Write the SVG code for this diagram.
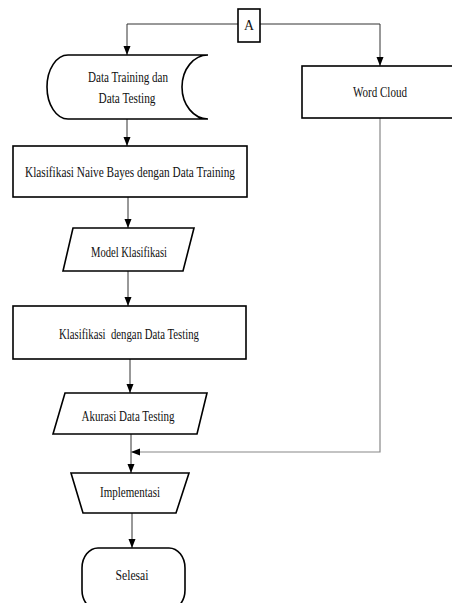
<svg xmlns="http://www.w3.org/2000/svg" width="452" height="603" viewBox="0 0 452 603">
<defs>
<marker id="arr" markerWidth="10" markerHeight="10" refX="9" refY="3.5" orient="auto" markerUnits="userSpaceOnUse" viewBox="0 0 10 7">
<path d="M0,0 L9,3.5 L0,7 Z" fill="#000"/>
</marker>
</defs>
<style>
.s{fill:#fff;stroke:#000;stroke-width:1.6}
.c{fill:none;stroke:#333;stroke-width:1}
.g{fill:none;stroke:#888;stroke-width:1.2}
text{font-family:"Liberation Serif","Times New Roman",serif;font-size:14px;fill:#111;text-anchor:middle}
</style>
<rect width="452" height="603" fill="#fff"/>
<g id="connectors">
<polyline class="c" points="238,24 127,24 127,55" marker-end="url(#arr)"/>
<polyline class="c" points="260,24 380,24 380,66" marker-end="url(#arr)"/>
<line class="c" x1="127" y1="119" x2="127" y2="146" marker-end="url(#arr)"/>
<line class="c" x1="128" y1="197" x2="128" y2="228" marker-end="url(#arr)"/>
<line class="c" x1="128" y1="271" x2="128" y2="306" marker-end="url(#arr)"/>
<line class="c" x1="130" y1="359" x2="130" y2="393" marker-end="url(#arr)"/>
<line class="c" x1="131" y1="434" x2="131" y2="473" marker-end="url(#arr)"/>
<polyline class="g" points="380,118 380,452 131,452" marker-end="url(#arr)"/>
<line class="c" x1="132" y1="510" x2="132" y2="548" marker-end="url(#arr)"/>
</g>
<g id="nodeA">
<rect class="s" x="238" y="9" width="22" height="33"/>
<text x="249" y="30" textLength="10" lengthAdjust="spacingAndGlyphs">A</text>
</g>
<g id="data">
<path class="s" d="M68,55 L208,55 A26,32 0 0 0 208,119 L68,119 A21,32 0 0 1 68,55 Z"/>
<text x="128" y="82" textLength="80" lengthAdjust="spacingAndGlyphs">Data Training dan</text>
<text x="127" y="103" textLength="57" lengthAdjust="spacingAndGlyphs">Data Testing</text>
</g>
<g id="wordcloud">
<rect class="s" x="302" y="66" width="156" height="52"/>
<text x="380" y="97" textLength="54" lengthAdjust="spacingAndGlyphs">Word Cloud</text>
</g>
<g id="nb">
<rect class="s" x="13" y="146" width="234" height="51"/>
<text x="130" y="177" textLength="210" lengthAdjust="spacingAndGlyphs">Klasifikasi Naive Bayes dengan Data Training</text>
</g>
<g id="model">
<polygon class="s" points="73,228 194,228 183,271 63,271"/>
<text x="129" y="257" textLength="76" lengthAdjust="spacingAndGlyphs">Model Klasifikasi</text>
</g>
<g id="testing">
<rect class="s" x="13" y="306" width="233" height="53"/>
<text x="129" y="339" textLength="140" lengthAdjust="spacingAndGlyphs" xml:space="preserve">Klasifikasi  dengan Data Testing</text>
</g>
<g id="akurasi">
<polygon class="s" points="65,393 207,393 197,434 53,434"/>
<text x="128" y="421" textLength="93" lengthAdjust="spacingAndGlyphs">Akurasi Data Testing</text>
</g>
<g id="implementasi">
<polygon class="s" points="71,473 189,473 176,513 83,513"/>
<text x="130" y="497" textLength="60" lengthAdjust="spacingAndGlyphs">Implementasi</text>
</g>
<g id="selesai">
<rect class="s" x="82" y="548" width="103" height="62" rx="16" ry="20"/>
<text x="132" y="580" textLength="33" lengthAdjust="spacingAndGlyphs">Selesai</text>
</g>
</svg>
